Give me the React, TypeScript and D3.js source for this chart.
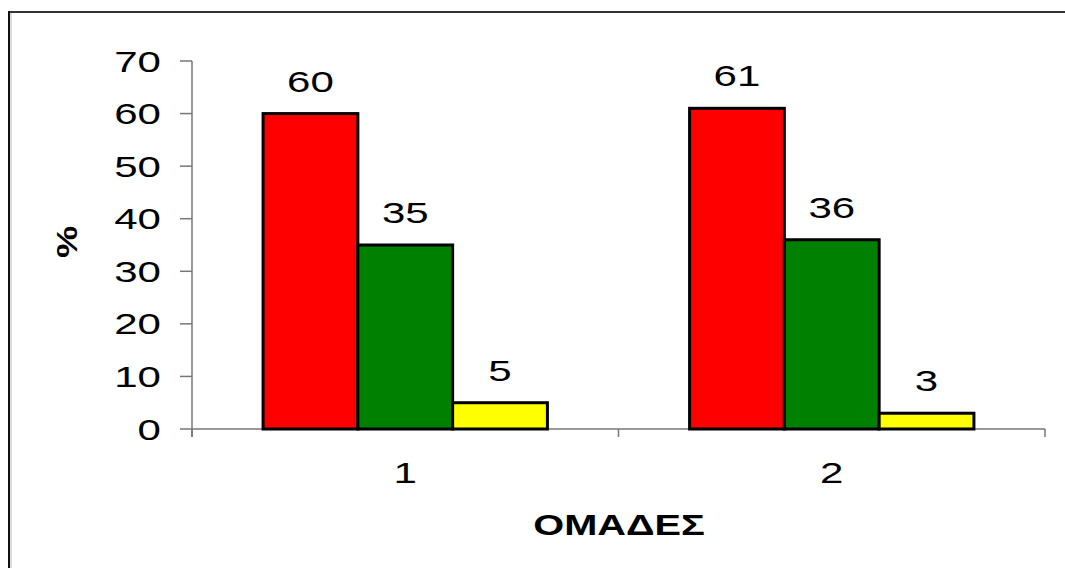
import React from "react";
import * as d3 from "d3";

const categories = ["1", "2"];
const seriesNames = ["A", "B", "C"];
const seriesColors = ["#ff0000", "#008000", "#ffff00"];
const values = [
  [60, 35, 5],
  [61, 36, 3],
];
const yTicks = [0, 10, 20, 30, 40, 50, 60, 70];
const yLabel = "%";
const xLabel = "ΟΜΑΔΕΣ";

const W = 1065;
const H = 568;
const SX = 1.45;
const FONT = "'Liberation Sans', Arial, sans-serif";

function StretchText({ x, y, children, anchor = "middle", size = 29, bold = false, sx = SX, rotate = 0 }: any) {
  return (
    <g transform={`translate(${x},${y}) rotate(${rotate}) scale(${sx},1)`}>
      <text
        x={0}
        y={0}
        textAnchor={anchor}
        fontFamily={FONT}
        fontSize={size}
        fontWeight={bold ? "bold" : "normal"}
        fill="#000"
      >
        {children}
      </text>
    </g>
  );
}

export default function App() {
  const x = d3.scaleBand<string>().domain(categories).range([192, 1045]).paddingInner(0).paddingOuter(0);
  const y = d3.scaleLinear().domain([0, 70]).range([429, 61]);
  const bw = x.bandwidth() / 4.5;
  const inner = d3
    .scaleBand<string>()
    .domain(seriesNames)
    .range([0.75 * bw, 3.75 * bw])
    .padding(0);

  const axisColor = "#777";
  const catEdges = [...categories.map((c) => x(c) as number), 1045];

  return (
    <svg
      width={W}
      height={H}
      style={{ position: "absolute", left: 0, top: 0, background: "#fff" }}
    >
      <rect x={0} y={0} width={W} height={H} fill="#fff" />
      {/* chart border */}
      <line x1={11} y1={12} x2={11} y2={H + 5} stroke="#ddd" strokeWidth={2} />
      <line x1={9} y1={12} x2={W + 5} y2={12} stroke="#333" strokeWidth={2} />
      <line x1={9} y1={11} x2={9} y2={H + 5} stroke="#111" strokeWidth={2} />

      {/* y axis */}
      <line x1={192} y1={y(70)} x2={192} y2={437} stroke={axisColor} strokeWidth={1.5} />
      {yTicks.map((t) => (
        <g key={t}>
          <line x1={180} y1={y(t)} x2={192} y2={y(t)} stroke={axisColor} strokeWidth={1.5} />
          <StretchText x={161} y={y(t) + 10.5} anchor="end">
            {t}
          </StretchText>
        </g>
      ))}

      {/* x axis */}
      <line x1={192} y1={y(0)} x2={1045} y2={y(0)} stroke={axisColor} strokeWidth={1.5} />
      {catEdges.map((e, i) => (
        <line key={i} x1={e} y1={y(0)} x2={e} y2={437} stroke={axisColor} strokeWidth={1.5} />
      ))}
      {categories.map((c) => (
        <StretchText key={c} x={(x(c) as number) + x.bandwidth() / 2} y={483}>
          {c}
        </StretchText>
      ))}

      {/* bars */}
      {categories.map((c, ci) =>
        seriesNames.map((s, si) => {
          const v = values[ci][si];
          const bx = (x(c) as number) + (inner(s) as number);
          return (
            <g key={c + s}>
              <rect
                x={bx}
                y={y(v)}
                width={inner.bandwidth()}
                height={y(0) - y(v)}
                fill={seriesColors[si]}
                stroke="#000"
                strokeWidth={3}
              />
              <StretchText x={bx + inner.bandwidth() / 2} y={y(v) - 22}>
                {v}
              </StretchText>
            </g>
          );
        })
      )}

      {/* axis titles */}
      <StretchText x={77} y={242} bold rotate={-90} sx={1.25}>
        {yLabel}
      </StretchText>
      <StretchText x={619} y={535} bold sx={1.37}>
        {xLabel}
      </StretchText>
    </svg>
  );
}
